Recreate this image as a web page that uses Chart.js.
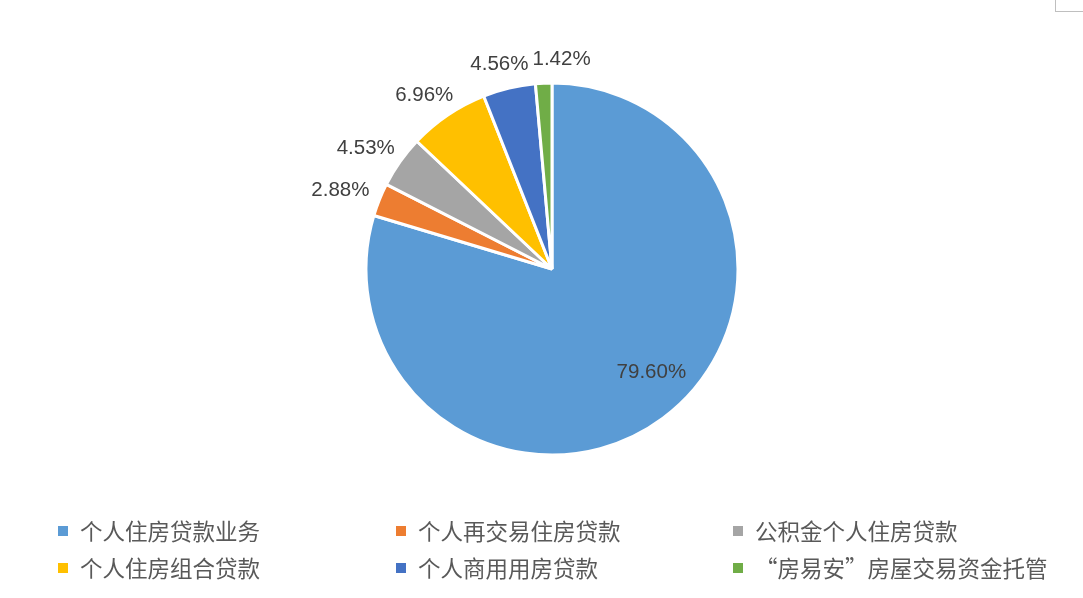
<!DOCTYPE html>
<html>
<head>
<meta charset="utf-8">
<script src="https://cdn.jsdelivr.net/npm/chart.js@4/dist/chart.umd.min.js"></script>
<style>
  html, body { margin: 0; padding: 0; background: #fff; }
  #wrap { position: relative; width: 1083px; height: 598px; overflow: hidden; }
  #myChart { position: absolute; left: 0; top: 0; }
  #corner { position: absolute; left: 1055px; top: -1px; width: 30px; height: 12px;
            border-left: 1px solid #bfbfbf; border-bottom: 1px solid #bfbfbf; }
  #legend { position: absolute; left: 0; top: 0; width: 1083px; height: 598px; }
  .item { position: absolute; font-family: "Noto Sans CJK SC", sans-serif; font-size: 22.5px;
          color: #595959; white-space: nowrap; line-height: 30px; }
  .item span.box { position: absolute; width: 10px; height: 10px; left: 0; top: 10px; }
  .item span.txt { position: absolute; left: 22px; top: -1px; }
</style>
</head>
<body>
<div id="wrap">
  <canvas id="myChart" width="1083" height="500" style="width:1083px;height:500px"></canvas>
  <div id="corner"></div>
  <div id="legend"></div>
</div>
<script>
// категории и значения (%)
var labels = ["个人住房贷款业务", "个人再交易住房贷款", "公积金个人住房贷款",
              "个人住房组合贷款", "个人商用用房贷款", "“房易安”房屋交易资金托管"];
var values = [79.60, 2.88, 4.53, 6.96, 4.56, 1.42];
var valueText = ["79.60%", "2.88%", "4.53%", "6.96%", "4.56%", "1.42%"];
var colors = ["#5b9bd5", "#ed7d31", "#a5a5a5", "#ffc000", "#4472c4", "#70ad47"];

// подписи данных, как в Excel: большая внутри, маленькие снаружи
var labelPlugin = {
  id: "pctLabels",
  afterDatasetsDraw: function (chart) {
    var ctx = chart.ctx;
    var arcs = chart.getDatasetMeta(0).data;
    ctx.save();
    ctx.font = "20.5px 'Liberation Sans', Arial, sans-serif";
    ctx.fillStyle = "#404040";
    ctx.textAlign = "center";
    ctx.textBaseline = "middle";
    var prevRight = null, prevY = null;
    arcs.forEach(function (arc, i) {
      var p = arc.getProps(["x", "y", "startAngle", "endAngle", "outerRadius"], true);
      var mid = (p.startAngle + p.endAngle) / 2;
      var c = Math.cos(mid), s = Math.sin(mid);
      var w = ctx.measureText(valueText[i]).width;
      var h = 22;
      var lx, ly;
      if (values[i] > 50) {
        lx = p.x + c * p.outerRadius * 0.76 + 15;
        ly = p.y + s * p.outerRadius * 0.76 - 10;
      } else {
        var ax = p.x + c * (p.outerRadius + 13);
        var ay = p.y + s * (p.outerRadius + 13);
        lx = ax + c * w / 2;
        ly = ay + s * h / 2;
        // не даём подписям налезать друг на друга
        if (prevRight !== null && lx - w / 2 < prevRight + 4 && Math.abs(ly - prevY) < h) {
          lx = prevRight + 4 + w / 2;
        }
        prevRight = lx + w / 2;
        prevY = ly;
      }
      ctx.fillText(valueText[i], lx, ly);
    });
    ctx.restore();
  }
};

var ctx = document.getElementById("myChart").getContext("2d");
var myChart = new Chart(ctx, {
  type: "pie",
  data: {
    labels: labels,
    datasets: [{
      data: values,
      backgroundColor: colors,
      borderColor: "#ffffff",
      borderWidth: 3
    }]
  },
  options: {
    responsive: false,
    animation: false,
    layout: { padding: { left: 21, right: 0, top: 81.5, bottom: 43.5 } },
    plugins: {
      legend: { display: false },
      tooltip: { enabled: false }
    }
  },
  plugins: [labelPlugin]
});

// легенда внизу, три колонки
var legend = document.getElementById("legend");
var colX = [58, 396, 733];
var rowY = [516, 553];
labels.forEach(function (name, i) {
  var item = document.createElement("div");
  item.className = "item";
  item.style.left = colX[i % 3] + "px";
  item.style.top = rowY[Math.floor(i / 3)] + "px";
  item.innerHTML = '<span class="box" style="background:' + colors[i] + '"></span>' +
                   '<span class="txt">' + name + '</span>';
  legend.appendChild(item);
});
</script>
</body>
</html>
